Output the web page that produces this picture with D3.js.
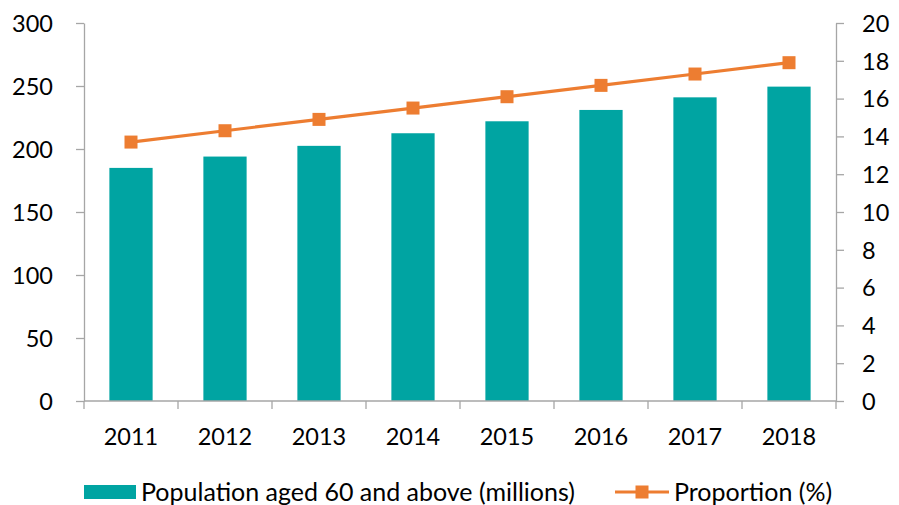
<!DOCTYPE html>
<html>
<head>
<meta charset="utf-8">
<script src="https://cdn.jsdelivr.net/npm/d3@7"></script>
<style>
  body { margin: 0; background: #fff; }
  svg text { font-family: Lato, "Open Sans", sans-serif; fill: #000; }
</style>
</head>
<body>
<svg id="chart" width="899" height="505"></svg>
<script>
// chart values
let years = ["2011", "2012", "2013", "2014", "2015", "2016", "2017", "2018"];
let population = [185, 194, 202.5, 212.5, 222, 231, 241, 249.5];
let proportion = [13.7, 14.3, 14.9, 15.5, 16.1, 16.7, 17.3, 17.9];
let leftTicks = [0, 50, 100, 150, 200, 250, 300];
let rightTicks = [0, 2, 4, 6, 8, 10, 12, 14, 16, 18, 20];
let barLabel = "Population aged 60 and above (millions)";
let lineLabel = "Proportion (%)";

let teal = "#00A4A2",
    orange = "#ED7D31",
    axisGrey = "#A6A6A6";

var margin = {top: 23, left: 84, right: 63, bottom: 104},
    width = 899 - margin.left - margin.right,
    height = 505 - margin.top - margin.bottom;

var tickFont = "23.5px",
    legendFont = "25px";

var svg = d3.select("#chart")
  .append("g")
  .attr("transform", "translate(" + margin.left + "," + margin.top + ")");

var x = d3.scaleBand().domain(years).range([0, width]).paddingInner(0.54).paddingOuter(0.27);
var xEdges = d3.scalePoint().domain(d3.range(years.length + 1)).range([0, width]);
var yLeft = d3.scaleLinear().domain([0, 300]).range([height, 0]);
var yRight = d3.scaleLinear().domain([0, 20]).range([height, 0]);

// bars
svg.selectAll(".bar")
  .data(population)
  .enter().append("rect")
  .attr("class", "bar")
  .attr("x", function(d, i) { return x(years[i]); })
  .attr("width", x.bandwidth())
  .attr("y", function(d) { return yLeft(d); })
  .attr("height", function(d) { return height - yLeft(d); })
  .attr("fill", teal);

// left axis
var leftAxis = svg.append("g")
  .call(d3.axisLeft(yLeft).tickValues(leftTicks).tickSize(8).tickPadding(23).tickSizeOuter(0));
leftAxis.select(".domain").attr("stroke", axisGrey).attr("stroke-width", 1.3);
leftAxis.selectAll("line").attr("stroke", axisGrey).attr("stroke-width", 1.3);
leftAxis.selectAll("text").style("font-size", tickFont).attr("fill", "#000").attr("dy", "0.35em");

// right axis
var rightAxis = svg.append("g")
  .attr("transform", "translate(" + width + ",0)")
  .call(d3.axisRight(yRight).tickValues(rightTicks).tickSize(8).tickPadding(18).tickSizeOuter(0));
rightAxis.select(".domain").attr("stroke", axisGrey).attr("stroke-width", 1.3);
rightAxis.selectAll("line").attr("stroke", axisGrey).attr("stroke-width", 1.3);
rightAxis.selectAll("text").style("font-size", tickFont).attr("fill", "#000").attr("dy", "0.35em");

// bottom axis: ticks sit between categories
var bottom = svg.append("g").attr("transform", "translate(0," + height + ")");
bottom.append("line")
  .attr("x1", 0).attr("x2", width)
  .attr("stroke", axisGrey).attr("stroke-width", 1.3);
bottom.selectAll(".edge")
  .data(xEdges.domain())
  .enter().append("line")
  .attr("x1", function(d) { return xEdges(d); })
  .attr("x2", function(d) { return xEdges(d); })
  .attr("y1", 0).attr("y2", 8)
  .attr("stroke", axisGrey).attr("stroke-width", 1.3);
bottom.selectAll(".lab")
  .data(years)
  .enter().append("text")
  .attr("x", function(d) { return x(d) + x.bandwidth() / 2; })
  .attr("y", 44)
  .attr("text-anchor", "middle")
  .style("font-size", tickFont)
  .text(function(d) { return d; });

// proportion line
var line = d3.line()
  .x(function(d, i) { return x(years[i]) + x.bandwidth() / 2; })
  .y(function(d) { return yRight(d); });

svg.append("path")
  .datum(proportion)
  .attr("d", line)
  .attr("fill", "none")
  .attr("stroke", orange)
  .attr("stroke-width", 3.2);

var mk = 13;
svg.selectAll(".mark")
  .data(proportion)
  .enter().append("rect")
  .attr("class", "mark")
  .attr("x", function(d, i) { return x(years[i]) + x.bandwidth() / 2 - mk / 2; })
  .attr("y", function(d) { return yRight(d) - mk / 2; })
  .attr("width", mk).attr("height", mk)
  .attr("fill", orange);

// legend
var legend = d3.select("#chart").append("g").attr("transform", "translate(0,492)");
legend.append("rect")
  .attr("x", 84).attr("y", -7).attr("width", 52).attr("height", 14)
  .attr("fill", teal);
legend.append("text")
  .attr("x", 141).attr("y", 0).attr("dy", "0.35em")
  .style("font-size", legendFont)
  .text(barLabel);
legend.append("line")
  .attr("x1", 615).attr("x2", 669).attr("y1", 0).attr("y2", 0)
  .attr("stroke", orange).attr("stroke-width", 3.2);
legend.append("rect")
  .attr("x", 642 - mk / 2).attr("y", -mk / 2).attr("width", mk).attr("height", mk)
  .attr("fill", orange);
legend.append("text")
  .attr("x", 674).attr("y", 0).attr("dy", "0.35em")
  .style("font-size", legendFont)
  .text(lineLabel);
</script>
</body>
</html>
